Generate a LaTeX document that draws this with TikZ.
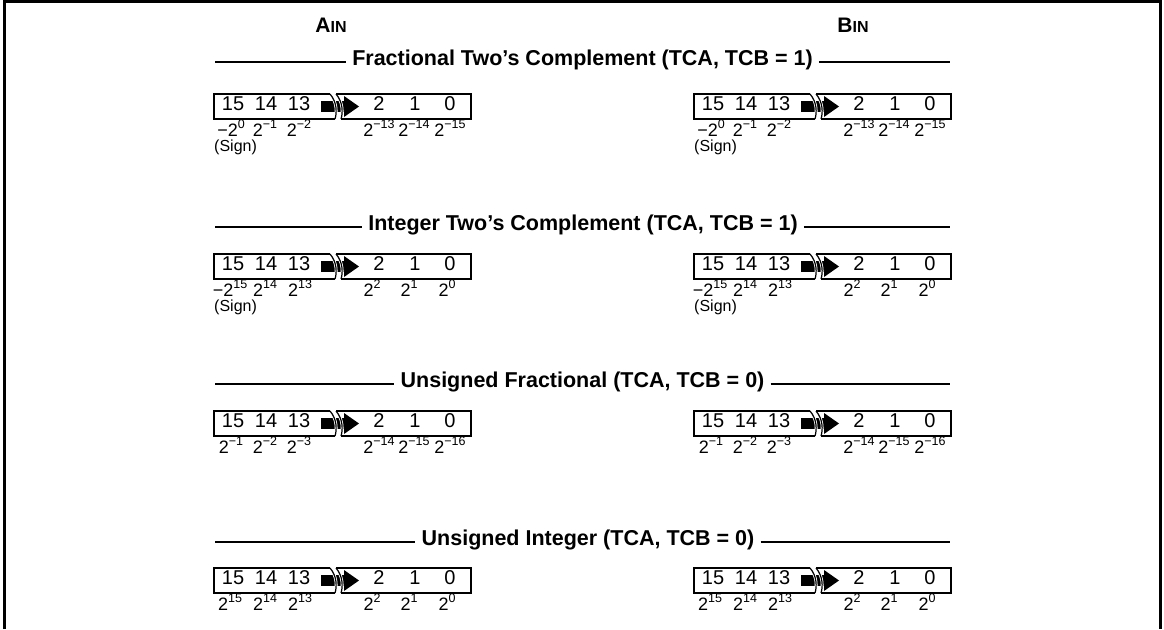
\documentclass[tikz,border=0pt]{standalone}
\usepackage{fontspec}
\setmainfont{Liberation Sans}
\newcommand{\bitsup}[1]{\raisebox{0.42em}{\fontsize{12.5}{13}\selectfont #1}}
% register box: #1 name prefix, #2 left x, #3 top y
\newcommand{\RegBox}[3]{%
\begin{scope}[shift={(#2,#3)}]
 \fill (107,7) rectangle (131,18);
 \fill (130,2) -- (145,12.5) -- (130,23) -- cycle;
 \draw[halo] (116,0) .. controls (123,8) and (123,19) .. (121,25);
 \draw[halo] (122,0) .. controls (129,8) and (129,19) .. (127,25);
 \draw[boxline] (116,0) -- (0,0) -- (0,25) -- (121,25);
 \draw[boxline] (122,0) -- (257,0) -- (257,25) -- (127,25);
 \draw[curveline] (116,0) .. controls (123,8) and (123,19) .. (121,25);
 \draw[curveline] (122,0) .. controls (129,8) and (129,19) .. (127,25);
 \node[digit] (#1-b15) at (19,12.5) {15};
 \node[digit] (#1-b14) at (52,12.5) {14};
 \node[digit] (#1-b13) at (85,12.5) {13};
 \node[digit] (#1-b2) at (165,12.5) {2};
 \node[digit] (#1-b1) at (201,12.5) {1};
 \node[digit] (#1-b0) at (236,12.5) {0};
\end{scope}}
% long labels: #1 prefix, #2 left x, #3 baseline y, #4..#9 labels
\newcommand{\LabelsLong}[9]{%
\begin{scope}[shift={(#2,#3)}]
 \node[bitlabel] (#1-l15) at (17,0) {#4};
 \node[bitlabel] (#1-l14) at (51,0) {#5};
 \node[bitlabel] (#1-l13) at (85,0) {#6};
 \node[bitlabel] (#1-l2) at (165,0) {#7};
 \node[bitlabel] (#1-l1) at (200,0) {#8};
 \node[bitlabel] (#1-l0) at (236,0) {#9};
\end{scope}}
\newcommand{\LabelsShort}[9]{%
\begin{scope}[shift={(#2,#3)}]
 \node[bitlabel] (#1-l15) at (16,0) {#4};
 \node[bitlabel] (#1-l14) at (51,0) {#5};
 \node[bitlabel] (#1-l13) at (86,0) {#6};
 \node[bitlabel] (#1-l2) at (158,0) {#7};
 \node[bitlabel] (#1-l1) at (195,0) {#8};
 \node[bitlabel] (#1-l0) at (233,0) {#9};
\end{scope}}
\begin{document}
\begin{tikzpicture}[x=1pt,y=-1pt,
  boxline/.style={line width=1.5pt},
  curveline/.style={line width=1.2pt},
  halo/.style={white, line width=2.8pt},
  frame/.style={line width=3pt},
  titleline/.style={line width=1.2pt},
  titletext/.style={font=\fontsize{21.5}{25}\selectfont\bfseries, inner xsep=6pt, inner ysep=0pt, text height=0.72em, text depth=0pt},
  digit/.style={font=\fontsize{20}{22}\selectfont, inner sep=0pt, text height=0.72em, text depth=0pt},
  bitlabel/.style={font=\fontsize{18}{20}\selectfont, inner sep=0pt, anchor=base},
  signlabel/.style={font=\fontsize{16}{18}\selectfont, inner sep=0pt, anchor=base west},
  colhead/.style={font=\fontsize{21}{24}\selectfont\bfseries, inner sep=0pt, text height=0.72em, text depth=0pt}
]
\useasboundingbox (0,0) rectangle (1164,629);
\draw[frame] (4,629) -- (4,1.5) -- (1160,1.5) -- (1160,629);

\node[colhead] (ain) at (331,29) {A{\fontsize{16}{18}\selectfont IN}};
\node[colhead] (bin) at (853,29) {B{\fontsize{16}{18}\selectfont IN}};

% titles
\coordinate (t1l) at (215,62); \coordinate (t1r) at (950,62);
\node[titletext] (t1) at (582.5,62) {Fractional Two’s Complement (TCA, TCB = 1)};
\draw[titleline] (t1l) -- (t1.west); \draw[titleline] (t1.east) -- (t1r);
\coordinate (t2l) at (215,227); \coordinate (t2r) at (950,227);
\node[titletext] (t2) at (583,227) {Integer Two’s Complement (TCA, TCB = 1)};
\draw[titleline] (t2l) -- (t2.west); \draw[titleline] (t2.east) -- (t2r);
\coordinate (t3l) at (215,384); \coordinate (t3r) at (950,384);
\node[titletext] (t3) at (582.5,384) {Unsigned Fractional (TCA, TCB = 0)};
\draw[titleline] (t3l) -- (t3.west); \draw[titleline] (t3.east) -- (t3r);
\coordinate (t4l) at (215,542); \coordinate (t4r) at (950,542);
\node[titletext] (t4) at (588,542) {Unsigned Integer (TCA, TCB = 0)};
\draw[titleline] (t4l) -- (t4.west); \draw[titleline] (t4.east) -- (t4r);

% row 1
\RegBox{a1}{214}{94}
\RegBox{b1}{694}{94}
\LabelsLong{a1}{214}{136}{−2\bitsup{0}}{2\bitsup{−1}}{2\bitsup{−2}}{2\bitsup{−13}}{2\bitsup{−14}}{2\bitsup{−15}}
\LabelsLong{b1}{694}{136}{−2\bitsup{0}}{2\bitsup{−1}}{2\bitsup{−2}}{2\bitsup{−13}}{2\bitsup{−14}}{2\bitsup{−15}}
\node[signlabel] (a1sign) at (214,151) {(Sign)};
\node[signlabel] (b1sign) at (694,151) {(Sign)};

% row 2
\RegBox{a2}{214}{254}
\RegBox{b2}{694}{254}
\LabelsShort{a2}{214}{296}{−2\bitsup{15}}{2\bitsup{14}}{2\bitsup{13}}{2\bitsup{2}}{2\bitsup{1}}{2\bitsup{0}}
\LabelsShort{b2}{694}{296}{−2\bitsup{15}}{2\bitsup{14}}{2\bitsup{13}}{2\bitsup{2}}{2\bitsup{1}}{2\bitsup{0}}
\node[signlabel] (a2sign) at (214,311) {(Sign)};
\node[signlabel] (b2sign) at (694,311) {(Sign)};

% row 3
\RegBox{a3}{214}{411}
\RegBox{b3}{694}{411}
\LabelsLong{a3}{214}{453}{2\bitsup{−1}}{2\bitsup{−2}}{2\bitsup{−3}}{2\bitsup{−14}}{2\bitsup{−15}}{2\bitsup{−16}}
\LabelsLong{b3}{694}{453}{2\bitsup{−1}}{2\bitsup{−2}}{2\bitsup{−3}}{2\bitsup{−14}}{2\bitsup{−15}}{2\bitsup{−16}}

% row 4
\RegBox{a4}{214}{568}
\RegBox{b4}{694}{568}
\LabelsShort{a4}{214}{610}{2\bitsup{15}}{2\bitsup{14}}{2\bitsup{13}}{2\bitsup{2}}{2\bitsup{1}}{2\bitsup{0}}
\LabelsShort{b4}{694}{610}{2\bitsup{15}}{2\bitsup{14}}{2\bitsup{13}}{2\bitsup{2}}{2\bitsup{1}}{2\bitsup{0}}
\end{tikzpicture}
\end{document}
